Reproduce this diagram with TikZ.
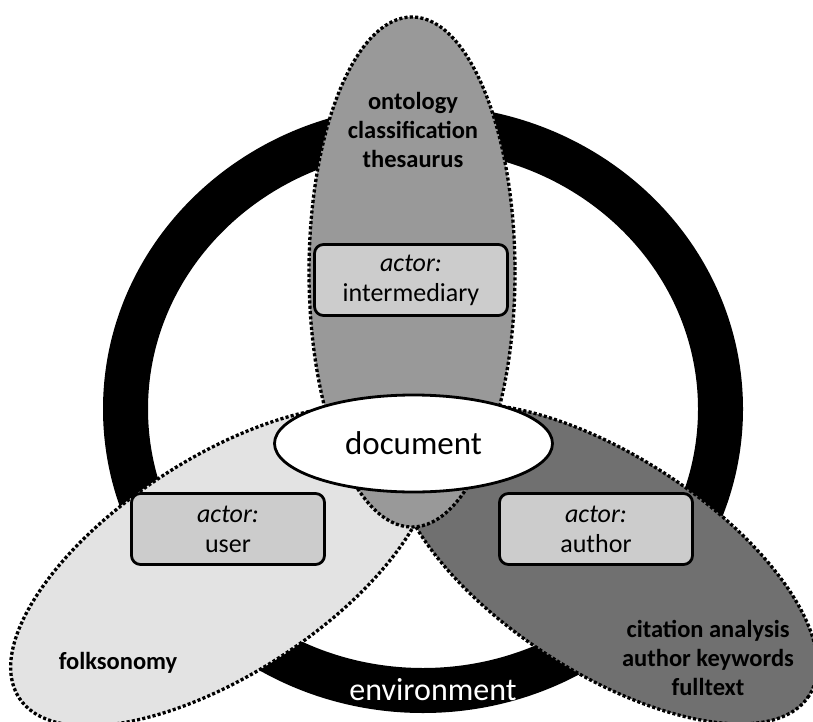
\documentclass[tikz,border=0pt]{standalone}
\usepackage{fontspec}
\setmainfont{Carlito}
\usepackage{tikz}
\usetikzlibrary{shapes.geometric}

\begin{document}
\begin{tikzpicture}[x=1pt,y=1pt,yscale=-1,xscale=1,
  dotline/.style={draw=black,line width=3.3pt,dash pattern=on 3.1pt off 2.2pt},
  actorbox/.style={draw=black,line width=2.8pt,rounded corners=9pt,fill=black!20,minimum width=193pt,minimum height=71pt,align=center,inner sep=0pt,font=\fontsize{26}{30}\selectfont},
  layertext/.style={align=center,inner sep=0pt,font=\fontsize{24.5}{29}\selectfont\bfseries}]
\useasboundingbox (0,0) rectangle (813,722);
\draw [line width=45pt] (423,409) ellipse [x radius=297.5, y radius=281.5];
\draw [dotline, fill=black!11, rotate around={-33:(222,566)}] (222,566) ellipse [x radius=242, y radius=108];
\draw [dotline, fill=black!56, rotate around={33:(606,564)}] (606,564) ellipse [x radius=242, y radius=108];
\draw [dotline, fill=black!40] (412,272) ellipse [x radius=103, y radius=255];
\node [actorbox] (intermediary) at (411,280) {\textit{actor:}\\intermediary};
\node [actorbox] (user) at (228,529) {\textit{actor:}\\user};
\node [actorbox] (author) at (596,529) {\textit{actor:}\\author};
\node [ellipse, draw=black, line width=2.8pt, fill=white, minimum width=278pt, minimum height=97pt, inner sep=0pt, font=\fontsize{33}{38}\selectfont] (document) at (413.5,443.5) {document};
\node [layertext] (kos) at (413,130) {ontology\\classification\\thesaurus};
\node [layertext] (folk) at (118,663) {folksonomy};
\node [layertext] (textual) at (708,658) {citation analysis\\author keywords\\fulltext};
\node [inner sep=0pt, text=white, font=\fontsize{32}{38}\selectfont] (environment) at (433,690) {environment};
\end{tikzpicture}
\end{document}
